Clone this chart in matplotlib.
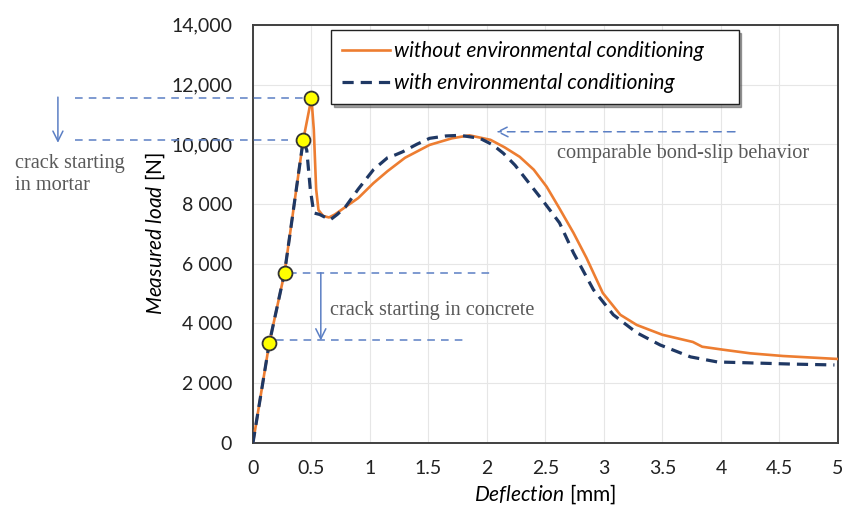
import numpy as np
import matplotlib.pyplot as plt

# deflection [mm] / load [N]
x_without = [0, 0.14, 0.27, 0.43, 0.50, 0.52, 0.54, 0.56, 0.60, 0.65, 0.70, 0.79, 0.90, 1.03, 1.15,
             1.30, 1.51, 1.70, 1.85, 2.03, 2.15, 2.28, 2.40, 2.51, 2.62, 2.74, 2.85, 2.99, 3.14,
             3.28, 3.50, 3.76, 3.84, 4.02, 4.25, 4.53, 5.0]
y_without = [0, 3350, 5700, 10150, 11550, 10500, 8500, 7800, 7600, 7550, 7650, 7900, 8200, 8700, 9100,
             9550, 9980, 10200, 10300, 10150, 9900, 9580, 9150, 8580, 7850, 7030, 6200, 5020, 4290,
             3950, 3620, 3380, 3220, 3120, 3000, 2910, 2810]

x_with = [0, 0.14, 0.27, 0.43, 0.46, 0.49, 0.52, 0.57, 0.62, 0.66, 0.72, 0.79, 0.90, 1.03, 1.15,
          1.22, 1.28, 1.40, 1.51, 1.65, 1.77, 1.94, 2.05, 2.14, 2.24, 2.34, 2.48, 2.62, 2.74,
          2.91, 3.08, 3.28, 3.48, 3.74, 3.97, 4.25, 4.6, 4.97]
y_with = [0, 3350, 5700, 10150, 9800, 8500, 7700, 7650, 7550, 7470, 7650, 7900, 8500, 9150, 9550,
          9650, 9750, 10000, 10200, 10280, 10300, 10200, 9980, 9700, 9300, 8800, 8100, 7370, 6360,
          5130, 4290, 3690, 3280, 2880, 2710, 2680, 2640, 2610]

marker_x = [0.14, 0.27, 0.43, 0.50]
marker_y = [3350, 5700, 10150, 11550]

y_ticks = [0, 2000, 4000, 6000, 8000, 10000, 12000, 14000]
y_ticklabels = ["0", "2 000", "4 000", "6 000", "8 000", "10,000", "12,000", "14,000"]
x_ticks = [0, 0.5, 1, 1.5, 2, 2.5, 3, 3.5, 4, 4.5, 5]
x_ticklabels = ["0", "0.5", "1", "1.5", "2", "2.5", "3", "3.5", "4", "4.5", "5"]

ORANGE = "#ED7D31"
NAVY = "#1F3864"
ANN = "#5B7FC4"
TXT = "#595959"

plt.rcParams["font.family"] = ["Lato", "DejaVu Sans"]
plt.rcParams["mathtext.fontset"] = "custom"
plt.rcParams["mathtext.it"] = "Lato:italic"
plt.rcParams["mathtext.rm"] = "Lato"

fig = plt.figure(figsize=(8.46, 5.18), dpi=100)
ax = fig.add_axes([0.299, 0.145, 0.6915, 0.807])

ax.plot(x_without, y_without, color=ORANGE, lw=1.9, label="without environmental conditioning", zorder=3)
ax.plot(x_with, y_with, color=NAVY, lw=2.3, ls=(0, (3.5, 2.2)), label="with environmental conditioning", zorder=4)
ax.plot(marker_x, marker_y, ls="none", marker="o", ms=10, mfc="#FFFF00", mec="#333333", mew=1.3, zorder=6)

ax.set_xlim(0, 5)
ax.set_ylim(0, 14000)
ax.set_xticks(x_ticks, x_ticklabels)
ax.set_yticks(y_ticks, y_ticklabels)
ax.tick_params(length=0, labelsize=14, colors="#222222")
ax.tick_params(axis="y", pad=15)
ax.tick_params(axis="x", pad=12)
ax.grid(color="#E6E6E6", lw=0.8)
ax.set_axisbelow(True)
for s in ax.spines.values():
    s.set_color("#404040")
    s.set_linewidth(1.4)

ax.set_xlabel(r"$\mathit{Deflection}$ [mm]", fontsize=15, labelpad=4)
ax.set_ylabel(r"$\mathit{Measured\ load}$ [N]", fontsize=15, labelpad=3)

leg = ax.legend(loc="upper left", bbox_to_anchor=(0.133, 0.6, 0.697, 0.388), mode="expand",
                fancybox=False, shadow=True, framealpha=1, edgecolor="#222222", fontsize=15,
                handlelength=2.3, borderpad=0.55, labelspacing=0.55, handletextpad=0.2, borderaxespad=0)
for t in leg.get_texts():
    t.set_fontstyle("italic")
leg.get_frame().set_linewidth(1.0)

# annotations: crack in mortar
dash = dict(color=ANN, lw=1.1, ls=(0, (5, 4)), clip_on=False, zorder=5)
ax.plot([-1.52, 0.46], [11550, 11550], **dash)
ax.plot([-1.52, 0.30], [10150, 10150], **dash)
ax.annotate("", xy=(-1.667, 10050), xytext=(-1.667, 11580), annotation_clip=False,
            arrowprops=dict(arrowstyle="->", color=ANN, lw=1.1, mutation_scale=18, shrinkA=0, shrinkB=0))
ax.text(-2.03, 9000, "crack starting\nin mortar", family="Liberation Serif", fontsize=14.6,
        color=TXT, va="center", ha="left", linespacing=1.2)

# crack in concrete
ax.plot([0.31, 2.03], [5700, 5700], **dash)
ax.plot([0.20, 1.8], [3430, 3430], **dash)
ax.annotate("", xy=(0.58, 3430), xytext=(0.58, 5700),
            arrowprops=dict(arrowstyle="->", color=ANN, lw=1.1, mutation_scale=18, shrinkA=0, shrinkB=0))
ax.text(0.66, 4450, "crack starting in concrete", family="Liberation Serif", fontsize=14.6,
        color=TXT, va="center", ha="left")

# bond-slip
ax.annotate("", xy=(2.08, 10420), xytext=(4.12, 10420),
            arrowprops=dict(arrowstyle="->", color=ANN, lw=1.1, ls=(0, (5, 4)), mutation_scale=18,
                            shrinkA=0, shrinkB=0))
ax.text(2.6, 9700, "comparable bond-slip behavior", family="Liberation Serif", fontsize=14.6,
        color=TXT, va="center", ha="left")

fig.savefig("out.png", dpi=100)
